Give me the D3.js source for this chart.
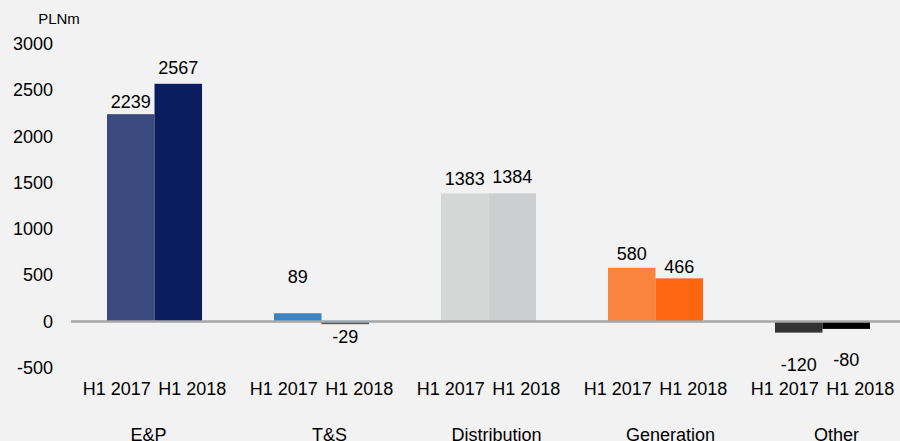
<!DOCTYPE html>
<html lang="en">
<head>
	<meta charset="UTF-8">
	<title>PLNm by segment</title>
	<script src="https://cdn.jsdelivr.net/npm/d3@7"></script>
	<style>
		body { margin: 0; background: #f2f2f2; }
		text { font-family: "Liberation Sans", Arial, sans-serif; fill: #000; }
	</style>
</head>
<body>
<script>
	// data
	var segments = ['E&P', 'T&S', 'Distribution', 'Generation', 'Other'];
	var periods = ['H1 2017', 'H1 2018'];
	var h1_2017 = [2239, 89, 1383, 580, -120];
	var h1_2018 = [2567, -29, 1384, 466, -80];
	var yTicks = [-500, 0, 500, 1000, 1500, 2000, 2500, 3000];

	// styles
	var colors = {
		'E&P': ['#3a4a7e', '#0b1c5f'],
		'T&S': ['#3b84c0', '#1e6aaa'],
		'Distribution': ['#d5d6d6', '#cdcecf'],
		'Generation': ['#fa843d', '#ff6611'],
		'Other': ['#333333', '#000000']
	};
	// label offsets from the bar end (px), as placed in the original
	var labelNudge = {
		'E&P': [-12, -16], 'T&S': [-37, 13], 'Distribution': [-15, -17],
		'Generation': [-14, -12], 'Other': [32, 31]
	};
	var catNudge = {'E&P': -6, 'T&S': 8, 'Distribution': 8, 'Generation': 15, 'Other': 14};

	var width = 900, height = 441;
	var fontSize = 18;

	var data = segments.map(function (s, i) {
		return {segment: s, values: [h1_2017[i], h1_2018[i]]};
	});

	var svg = d3.select('body').append('svg')
		.attr('width', width)
		.attr('height', height);

	var x0 = d3.scaleBand()
		.domain(segments)
		.range([71, 906])
		.paddingInner(0.431)
		.paddingOuter(0.2156);

	var x1 = d3.scaleBand()
		.domain(periods)
		.range([0, x0.bandwidth()]);

	var y = d3.scaleLinear()
		.domain([-500, 3000])
		.range([367.8, 43.7]);

	// y axis labels
	var yAxis = svg.append('g')
		.attr('transform', 'translate(53,0)')
		.call(d3.axisLeft(y).tickValues(yTicks).tickSize(0).tickPadding(0)
			.tickFormat(function (d) { return String(d); }));
	yAxis.select('.domain').remove();
	yAxis.selectAll('text')
		.style('font-size', fontSize + 'px')
		.attr('fill', '#000');

	svg.append('text')
		.attr('x', 59)
		.attr('y', 24)
		.attr('text-anchor', 'middle')
		.style('font-size', '15px')
		.text('PLNm');

	// bars
	var groups = svg.selectAll('.group')
		.data(data)
		.enter().append('g')
		.attr('class', 'group')
		.attr('transform', function (d) { return 'translate(' + x0(d.segment) + ',0)'; });

	function rows(d) {
		return d.values.map(function (v, j) { return {segment: d.segment, period: periods[j], value: v, j: j}; });
	}

	groups.selectAll('rect')
		.data(rows)
		.enter().append('rect')
		.attr('x', function (d) { return x1(d.period); })
		.attr('width', x1.bandwidth())
		.attr('y', function (d) { return Math.min(y(d.value), y(0)); })
		.attr('height', function (d) { return Math.abs(y(d.value) - y(0)); })
		.attr('fill', function (d) { return colors[d.segment][d.j]; });

	// value labels
	groups.selectAll('.val')
		.data(rows)
		.enter().append('text')
		.attr('class', 'val')
		.attr('x', function (d) { return x1(d.period) + x1.bandwidth() / 2; })
		.attr('y', function (d) { return y(d.value) + labelNudge[d.segment][d.j]; })
		.attr('dy', '0.35em')
		.attr('text-anchor', 'middle')
		.style('font-size', fontSize + 'px')
		.text(function (d) { return String(d.value); });

	// period labels
	groups.selectAll('.period')
		.data(periods)
		.enter().append('text')
		.attr('class', 'period')
		.attr('x', function (p, j) { return x1(p) + x1.bandwidth() / 2 + (j === 0 ? -14 : 14); })
		.attr('y', 389)
		.attr('dy', '0.35em')
		.attr('text-anchor', 'middle')
		.style('font-size', fontSize + 'px')
		.text(function (p) { return p; });

	// category labels (clipped by the bottom edge, as in the original)
	groups.append('text')
		.attr('x', function (d) { return x0.bandwidth() / 2 + catNudge[d.segment]; })
		.attr('y', 441)
		.attr('text-anchor', 'middle')
		.style('font-size', fontSize + 'px')
		.text(function (d) { return d.segment; });

	// zero line
	svg.append('line')
		.attr('x1', 71)
		.attr('x2', width)
		.attr('y1', y(0))
		.attr('y2', y(0))
		.attr('stroke', '#a6a6a6')
		.attr('stroke-width', 2.5);
</script>
</body>
</html>
